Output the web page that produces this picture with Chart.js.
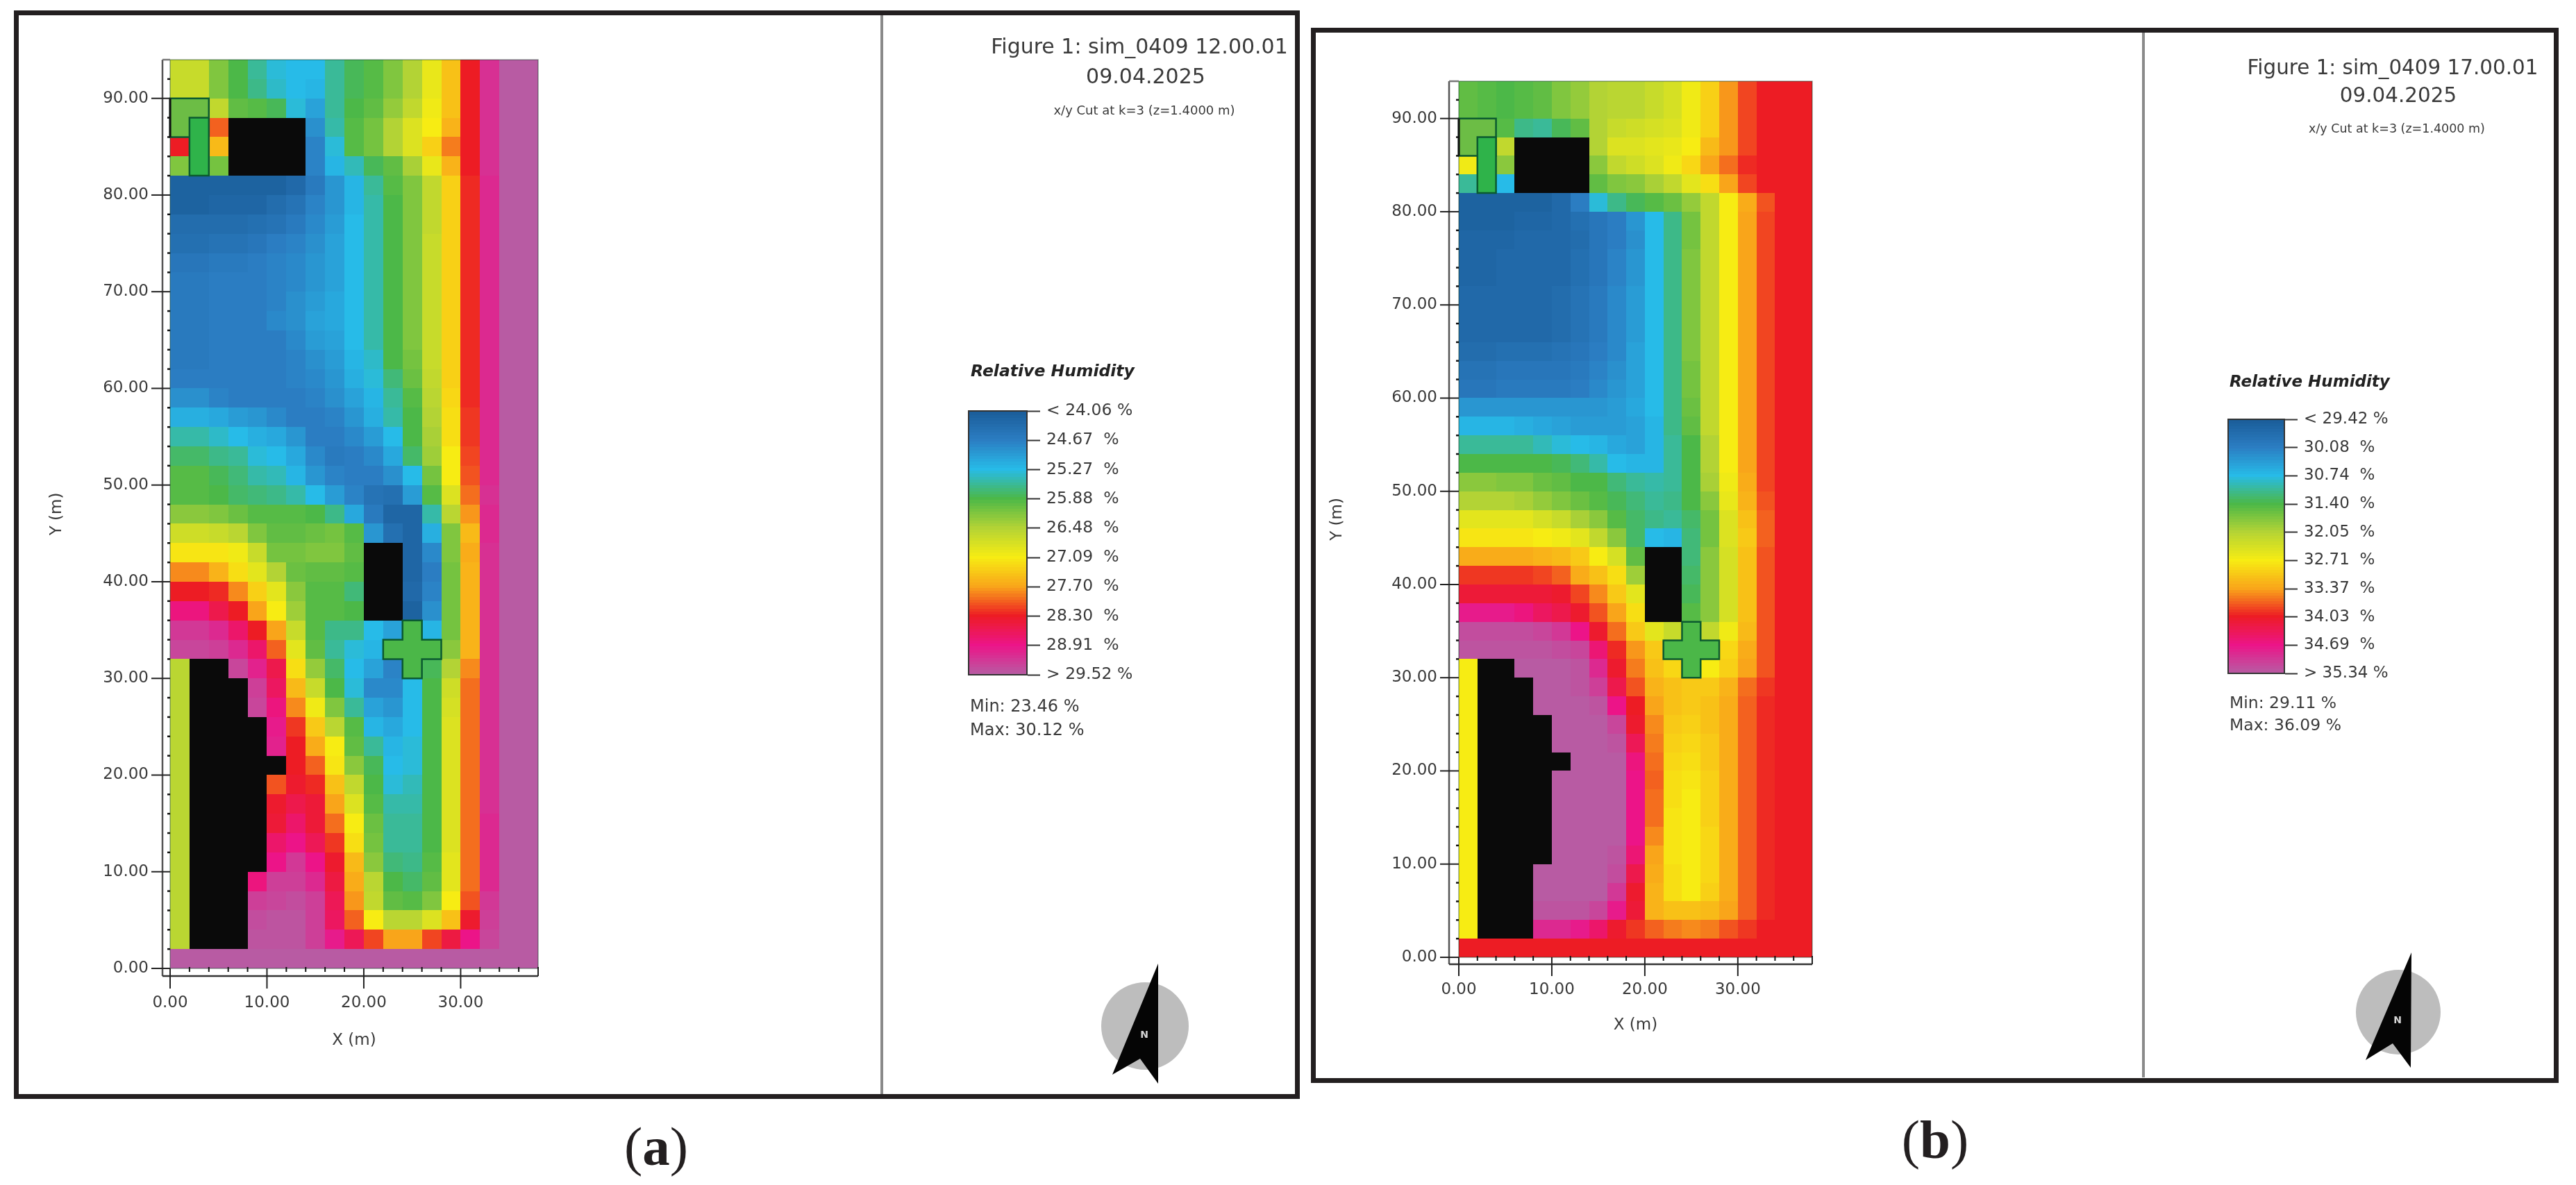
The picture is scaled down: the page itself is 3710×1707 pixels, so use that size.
<!DOCTYPE html>
<html><head><meta charset="utf-8">
<script src="https://cdn.jsdelivr.net/npm/chart.js@4"></script>
<style>
html,body{margin:0;padding:0;background:#fff}
#root{position:relative;width:3710px;height:1707px;overflow:hidden;filter:blur(.6px);font-family:"DejaVu Sans",sans-serif;color:#3a3a3a}
.frame{position:absolute;border:7px solid #231f20;box-sizing:border-box}
.div{position:absolute;background:#8a8a8a}
canvas{position:absolute}
.t{position:absolute;white-space:pre;line-height:1}
.c{transform:translate(-50%,-50%)}
.l{transform:translateY(-50%)}
.cap{font-family:"Liberation Serif",serif;color:#231f20;font-size:79px}
svg{position:absolute;left:0;top:0}
</style></head><body><div id="root"></div>
<script>
const N = null; // building footprint (drawn black)
// Cell values: position on the colour bar, 0 (lowest tick) … 9 (highest tick). Top row first; 19 columns of 2 m, 47 rows of 2 m.
const humidityA = [
[4.3,4.3,3.5,3,2.5,2.1,2,2,2.5,2.9,3.1,3.5,4,4.8,5.6,7,8.4,9,9],
[4.3,4.3,3.5,3,2.6,2.2,2,1.9,2.5,2.9,3.1,3.5,4,4.8,5.6,7,8.4,9,9],
[3.5,3.5,4.2,3.2,3.1,2.9,2.1,1.6,2.5,3,3.2,3.7,4.2,4.9,5.6,7,8.4,9,9],
[3.5,3.3,6.5,N,N,N,N,1.3,2.4,3.1,3.4,4,4.6,5,5.8,7,8.4,9,9],
[7,3.3,5.7,N,N,N,N,1.1,2.1,3.1,3.4,4,4.6,5.4,6.3,7,8.4,9,9],
[3.5,3.3,3.4,N,N,N,N,1.1,1.9,2.3,2.9,3.2,3.9,4.8,5.8,7,8.4,9,9],
[.2,.2,.2,.2,.2,.2,.4,.9,1.4,1.9,2.5,3.1,3.5,4.2,5.4,6.9,8.3,9,9],
[.2,.2,.3,.3,.3,.5,.7,1.1,1.4,1.9,2.4,3,3.5,4.2,5.4,6.9,8.3,9,9],
[.5,.5,.5,.5,.6,.7,.9,1.2,1.5,2,2.4,3,3.5,4.2,5.4,6.9,8.3,9,9],
[.6,.6,.7,.7,.8,1,1.1,1.3,1.6,2,2.4,3,3.5,4.3,5.4,6.9,8.3,9,9],
[.8,.8,.9,.9,1,1.1,1.2,1.4,1.6,2,2.4,3,3.5,4.3,5.4,6.9,8.3,9,9],
[.9,.9,1,1,1,1.1,1.2,1.4,1.6,2,2.4,3,3.5,4.3,5.4,6.9,8.3,9,9],
[.9,.9,1,1,1,1.1,1.3,1.5,1.7,2,2.4,3,3.5,4.3,5.4,6.9,8.3,9,9],
[.9,.9,1,1,1,1.2,1.3,1.6,1.7,2,2.4,3,3.5,4.3,5.4,6.9,8.3,9,9],
[.9,.9,1,1,1,1,1.2,1.5,1.6,2,2.4,3,3.5,4.3,5.4,6.9,8.3,9,9],
[.9,.9,1,1,1,1,1.1,1.3,1.5,1.9,2.2,3,3.4,4.3,5.4,6.9,8.3,9,9],
[1,1,1,1,1,1,1.1,1.2,1.4,1.8,2.1,2.7,3.3,4.2,5.4,6.9,8.3,9,9],
[1.3,1.3,1.1,1,1,1,1,1.1,1.3,1.6,1.9,2.5,3.1,4.1,5.3,6.9,8.3,9,9],
[1.8,1.8,1.7,1.5,1.4,1.2,1,1,1.1,1.4,1.8,2.4,3,4,5.2,6.8,8.3,9,9],
[2.4,2.4,2.2,2,1.8,1.7,1.4,1,1,1.2,1.5,2,3,3.9,5.2,6.8,8.3,9,9],
[2.8,2.8,2.6,2.5,2.1,2,1.7,1.2,.9,1,1.2,1.7,2.8,3.8,5,6.7,8.3,9,9],
[3.1,3.1,2.9,2.7,2.4,2.3,1.9,1.4,1.1,1,1,1.3,2,3.4,5,6.6,8.3,9,9],
[3.1,3.1,3,2.8,2.7,2.6,2.4,2,1.5,1.1,.7,.6,1.5,3.1,4.6,6.4,8.4,9,9],
[3.6,3.6,3.5,3.3,3.1,3.1,3.1,3,2.6,1.7,.9,.3,.3,2.4,4.1,6.1,8.3,9,9],
[4.4,4.4,4.3,4.1,3.5,3.2,3.2,3.3,3.4,3.1,1.4,.6,.3,1.8,3.5,5.7,8.3,9,9],
[5.1,5.1,5.1,4.9,4.3,3.4,3.4,3.5,3.5,3.2,N,N,.3,1.2,3.5,5.9,8.4,9,9],
[6.2,6.2,5.8,5.2,4.7,4,3.3,3.2,3.2,3.1,N,N,.3,1,3.4,5.8,8.4,9,9],
[7,7,6.9,6.2,5.4,4.7,3.6,3.1,3.1,2.7,N,N,.4,1.1,3.4,5.8,8.4,9,9],
[7.9,7.9,7.4,7,6,5,3.8,3.1,3.1,3,N,N,.2,1.3,3.4,5.8,8.4,9,9],
[8.5,8.5,8.3,7.7,7,6,4.3,3.1,2.6,2.6,2,1.6,3.3,1.9,3.4,5.8,8.4,9,9],
[8.7,8.7,8.6,8.3,7.7,6.5,4.7,3.2,2.5,2.1,1.9,3.3,3.3,3.3,3.6,5.8,8.4,9,9],
[4.1,N,N,8.7,8.2,7.4,5.2,3.7,2.8,2,1.6,1.1,3.3,2.9,4,6.2,8.4,9,9],
[4.1,N,N,N,8.6,7.6,5.7,4.3,3,2.1,1.2,1.2,2,3,4.4,6.4,8.4,9,9],
[4.1,N,N,N,8.7,7.9,6.2,4.9,3.5,2.5,1.6,1.4,2,3,4.5,6.4,8.4,9,9],
[4.1,N,N,N,N,8.1,6.8,5.5,4.1,3.1,1.9,1.7,2,3,4.6,6.4,8.4,9,9],
[4.1,N,N,N,N,8.2,7,5.9,5,3.2,2.5,1.9,2.1,3,4.6,6.4,8.4,9,9],
[4.1,N,N,N,N,N,7,6.5,5.1,3.6,2.9,2,2.1,3,4.6,6.4,8.4,9,9],
[4.1,N,N,N,N,6.6,7.1,6.9,5.6,4.2,3,2.1,2.3,3,4.6,6.4,8.4,9,9],
[4.1,N,N,N,N,7.1,7.4,7.2,6,4.6,3.1,2.4,2.4,3,4.6,6.4,8.4,9,9],
[4.1,N,N,N,N,7.2,7.7,7.2,6.4,5,3.3,2.5,2.5,3,4.6,6.4,8.3,9,9],
[4.1,N,N,N,N,7.7,8,7.5,6.8,5.2,3.4,2.5,2.5,3,4.6,6.4,8.3,9,9],
[4.1,N,N,N,N,8,8.5,8,7.1,5.7,3.6,2.7,2.6,3.1,4.7,6.4,8.3,9,9],
[4.1,N,N,N,7.9,8.6,8.6,8.3,7.3,5.9,4.1,3,2.8,3.2,4.7,6.4,8.3,9,9],
[4.1,N,N,N,8.6,8.7,8.8,8.6,7.5,6.1,4.2,3.2,3.1,3.5,5,6.6,8.5,9,9],
[4.1,N,N,N,8.8,8.9,8.9,8.6,7.6,6.5,5,4.1,4.1,4.6,5.6,7.1,8.6,9,9],
[4.1,N,N,N,8.9,8.9,8.9,8.6,8.1,7.5,6.7,6,6,6.7,7.3,8,8.7,9,9],
[9,9,9,9,9,9,9,9,9,9,9,9,9,9,9,9,9,9,9]
];
const humidityB = [
[3.2,3.1,3,3.1,3.2,3.5,3.7,4,4.1,4.1,4.3,4.5,4.9,5.4,6.1,6.7,7,7,7],
[3.2,3.1,3,3.1,3.2,3.5,3.7,4,4.1,4.1,4.3,4.5,4.9,5.4,6.1,6.7,7,7,7],
[3.5,3.5,3.1,2.6,2.5,2.9,3.2,4,4.3,4.4,4.5,4.6,4.9,5.4,6.1,6.7,7,7,7],
[3.5,3.3,4.2,N,N,N,N,4,4.6,4.6,4.7,4.8,5,5.7,6.1,6.7,7,7,7],
[4.9,3.3,3.6,N,N,N,N,3.6,4.2,4.4,4.6,4.9,5.3,6,6.4,6.9,7,7,7],
[2.5,3.3,2,N,N,N,N,3.2,3.5,3.6,3.9,4.2,4.7,5.2,6,6.7,7,7,7],
[.2,.2,.2,.2,.2,.4,1,2.1,2.6,2.9,3.1,3.3,3.7,4.2,5,5.9,6.6,7,7],
[.2,.2,.2,.3,.3,.4,.6,.8,1,1.4,2,2.6,3.4,4.2,5,6,6.7,7,7],
[.3,.3,.3,.4,.4,.4,.5,.8,1,1.3,2,2.6,3.4,4.2,5,6,6.7,7,7],
[.3,.3,.4,.4,.4,.4,.6,.8,1.1,1.4,2,2.6,3.5,4.2,5,6,6.7,7,7],
[.3,.3,.4,.4,.4,.4,.6,.8,1.1,1.4,2,2.6,3.5,4.2,5,6,6.7,7,7],
[.4,.4,.4,.4,.4,.5,.7,.9,1.2,1.5,2,2.6,3.5,4.2,5,6,6.7,7,7],
[.4,.4,.4,.4,.4,.5,.7,.9,1.2,1.5,2,2.6,3.5,4.2,5,6,6.7,7,7],
[.4,.4,.4,.4,.4,.5,.7,.9,1.2,1.5,2,2.6,3.5,4.2,5,6,6.7,7,7],
[.5,.5,.6,.6,.6,.7,.8,1,1.2,1.6,2,2.6,3.5,4.2,5,6,6.7,7,7],
[.7,.7,.8,.8,.8,.8,.9,1.1,1.3,1.6,2,2.6,3.4,4.2,5,6,6.7,7,7],
[.8,.8,.9,.9,.9,.9,1,1.2,1.4,1.6,2,2.6,3.4,4.2,5,6,6.7,7,7],
[1.4,1.4,1.4,1.4,1.4,1.4,1.4,1.4,1.5,1.7,2,2.6,3.3,4.2,5,6,6.7,7,7],
[1.9,1.9,1.9,1.8,1.7,1.6,1.5,1.5,1.5,1.6,1.9,2.6,3.2,4.2,5,6,6.7,7,7],
[2.5,2.5,2.5,2.5,2.3,2.1,2,1.9,1.7,1.6,1.9,2.5,3,4,5,6,6.7,7,7],
[3,3,3,3,3,2.9,2.7,2.4,2,1.9,1.9,2.5,3,4,5,6,6.7,7,7],
[3.6,3.6,3.5,3.5,3.3,3.2,3,3,2.7,2.5,2.4,2.5,3,3.9,4.9,5.9,6.7,7,7],
[4,4,4,3.9,3.7,3.5,3.3,3.1,2.9,2.7,2.5,2.6,3,3.6,4.8,5.8,6.6,7,7],
[4.7,4.7,4.7,4.7,4.5,4.3,3.9,3.6,3.1,2.8,2.6,2.5,2.8,3.4,4.6,5.6,6.5,7,7],
[5.1,5.1,5.1,5.1,5,4.9,4.7,4.2,3.6,2.8,2,1.9,2.7,3.4,4.6,5.5,6.5,7,7],
[5.9,5.9,5.9,5.9,5.8,5.7,5.5,5,4.5,3.2,N,N,2.7,3.6,4.5,5.6,6.6,7,7],
[6.8,6.8,6.8,6.8,6.7,6.5,5.9,5.6,5.2,3.8,N,N,2.8,3.6,4.5,5.6,6.6,7,7],
[7.2,7.2,7.2,7.2,7.2,7.1,6.7,6.2,5.5,4.7,N,N,2.9,3.6,4.5,5.6,6.6,7,7],
[8.1,8.1,8.1,7.9,7.6,7.4,7.1,6.6,6,5.2,N,N,3.1,3.6,4.5,5.6,6.6,7,7],
[8.8,8.8,8.8,8.8,8.7,8.5,8,7.1,6.4,5.5,4.7,4.3,3.3,4.2,4.9,5.7,6.6,7,7],
[8.9,8.9,8.9,8.9,8.9,8.8,8.7,7.8,6.9,6.1,5.5,3.3,3.3,3.3,5.3,5.9,6.6,7,7],
[5,N,N,9,9,9,8.9,8.3,7.1,6.3,5.6,5.3,3.3,5,5.4,6,6.6,7,7],
[5,N,N,N,9,9,8.9,8.6,7.4,6.6,5.8,5.6,5.5,5.5,5.8,6.4,6.8,7,7],
[5,N,N,N,9,9,9,8.9,8,7,6,5.6,5.5,5.6,5.9,6.5,6.9,7,7],
[5,N,N,N,N,9,9,9,8.7,7.1,6.2,5.5,5.4,5.6,5.9,6.5,6.9,7,7],
[5,N,N,N,N,9,9,9,8.9,7.5,6.3,5.4,5.3,5.5,5.9,6.5,6.9,7,7],
[5,N,N,N,N,N,9,9,9,7.9,6.4,5.3,5.2,5.5,5.9,6.5,6.9,7,7],
[5,N,N,N,N,9,9,9,9,8,6.5,5.2,5.1,5.4,5.9,6.5,6.9,7,7],
[5,N,N,N,N,9,9,9,9,8,6.4,5.2,5,5.4,5.9,6.5,6.9,7,7],
[5,N,N,N,N,9,9,9,9,8,6.4,5.1,5,5.4,5.9,6.5,6.9,7,7],
[5,N,N,N,N,9,9,9,9,8,6.2,5.1,5,5.3,5.9,6.5,6.9,7,7],
[5,N,N,N,N,9,9,9,8.9,7.8,6,5.1,5,5.3,5.9,6.5,6.9,7,7],
[5,N,N,N,9,9,9,9,8.8,7.4,5.9,5.2,5,5.3,5.9,6.5,6.9,7,7],
[5,N,N,N,9,9,9,9,8.5,7.1,5.8,5.2,5,5.4,5.9,6.5,6.9,7,7],
[5,N,N,N,8.9,8.9,8.9,8.7,8.1,7.2,5.8,5.6,5.6,5.7,6,6.5,6.9,7,7],
[5,N,N,N,8.3,8.3,8.1,7.7,7.1,6.8,6.5,6.3,6.2,6.3,6.6,6.8,7,7,7],
[7,7,7,7,7,7,7,7,7,7,7,7,7,7,7,7,7,7,7]
];
const colourStops = ['#1a5c98','#2b7dc2','#27bbe8','#4cb848','#b3d335','#f7ec13','#f9a51a','#ed1c24','#ec1488','#b85ba3'];
const legendLabelsA = ['< 24.06 %','24.67  %','25.27  %','25.88  %','26.48  %','27.09  %','27.70  %','28.30  %','28.91  %','> 29.52 %'];
const legendLabelsB = ['< 29.42 %','30.08  %','30.74  %','31.40  %','32.05  %','32.71  %','33.37  %','34.03  %','34.69  %','> 35.34 %'];
const xMinorTicks = [2,4,6,8,12,14,16,18,22,24,26,28,32,34,36,38];
const yMinorTicks = [2,4,6,8,12,14,16,18,22,24,26,28,32,34,36,38,42,44,46,48,52,54,56,58,62,64,66,68,72,74,76,78,82,84,86,88,92];
const gardenBox = [[0,90],[4,90],[4,86],[0,86]];
const treeBox = [[2,88],[4,88],[4,82],[2,82]];
const crossTree = [[24,36],[26,36],[26,34],[28,34],[28,32],[26,32],[26,30],[24,30],[24,32],[22,32],[22,34],[24,34]];

function hex(c){return [1,3,5].map(i=>parseInt(c.slice(i,i+2),16));}
function levelColour(v){
  if(v===null) return '#0a0a0a';
  const i=Math.min(8,Math.floor(v)),f=v-i,a=hex(colourStops[i]),b=hex(colourStops[i+1]);
  return 'rgb('+a.map((p,k)=>Math.round(p+(b[k]-p)*f)).join(',')+')';
}
function cellsOf(grid){
  const out=[];
  grid.forEach((row,r)=>row.forEach((v,c)=>out.push({x:2*c+1,y:94-2*r-1,v})));
  return out;
}
const heatCells={id:'heatCells',beforeDatasetsDraw(chart,_,opts){
  const {ctx,chartArea:a,scales:{x,y}}=chart;
  ctx.save();ctx.beginPath();ctx.rect(a.left,a.top,a.width,a.height);ctx.clip();
  chart.data.datasets.forEach(ds=>{
    if(!ds.cellHalf) return;
    ds.data.forEach(p=>{
      const s=y.options.reverse?-1:1;
      const l=Math.round(x.getPixelForValue(p.x-ds.cellHalf[0])),r=Math.round(x.getPixelForValue(p.x+ds.cellHalf[0]));
      const t=Math.round(y.getPixelForValue(p.y+ds.cellHalf[1]*s)),b=Math.round(y.getPixelForValue(p.y-ds.cellHalf[1]*s));
      ctx.fillStyle=levelColour(p.v);ctx.fillRect(l,t,r-l,b-t);
    });
  });
  ctx.restore();
  if(opts.outline){ctx.strokeStyle=opts.outline;ctx.lineWidth=opts.outlineWidth||1;ctx.strokeRect(a.left,a.top,a.width,a.height);}
}};
const simAxes={id:'simAxes',afterDatasetsDraw(chart,_,o){
  const {ctx,chartArea:a,scales:{x,y}}=chart;
  const line=(x1,y1,x2,y2,w,c)=>{ctx.strokeStyle=c||'#2a2a2a';ctx.lineWidth=w;ctx.beginPath();ctx.moveTo(x1,y1);ctx.lineTo(x2,y2);ctx.stroke();};
  const poly=(pts,fill,w)=>{ctx.beginPath();pts.forEach((p,i)=>{const px=x.getPixelForValue(p[0]),py=y.getPixelForValue(p[1]);i?ctx.lineTo(px,py):ctx.moveTo(px,py);});ctx.closePath();ctx.fillStyle=fill;ctx.fill();ctx.strokeStyle='#0b5a30';ctx.lineWidth=w;ctx.stroke();};
  poly(gardenBox,'#6cbd45',2.5);poly(treeBox,'#2fb34a',2.5);poly(crossTree,'#4bb748',2.5);
  const L=a.left-o.gapL,B=a.bottom+o.gapB;
  line(L,a.top,L,B,2.5,'#555');line(L,B,a.right,B,2.5,'#333');line(L,a.top,a.left,a.top,2.5,'#777');
  line(a.left,y.getPixelForValue(90),a.left,y.getPixelForValue(86),3,'#111');
  y.ticks.forEach(t=>{const p=y.getPixelForValue(t.value);line(L-o.tickOut,p,a.left,p,2,'#222');});
  yMinorTicks.forEach(v=>{const p=y.getPixelForValue(v);line(a.left-4,p,a.left,p,2.5,'#111');});
  x.ticks.forEach(t=>{const p=x.getPixelForValue(t.value);line(p,a.bottom,p,B+o.tickOutB,2,'#222');});
  xMinorTicks.forEach(v=>{const p=x.getPixelForValue(v);line(p,a.bottom-2,p,a.bottom+5,2,'#111');});
  const e=x.getPixelForValue(38);line(e,a.bottom,e,B,2,'#222');
}};
const root=document.getElementById('root');
function el(cls,css,txt){const d=document.createElement('div');d.className=cls;Object.assign(d.style,css);if(txt!==undefined)d.textContent=txt;root.appendChild(d);return d;}
function txt(s,x,y,size,cls,extra){return el('t '+cls,Object.assign({left:x+'px',top:y+'px',fontSize:size+'px'},extra||{}),s);}
function mkCanvas(l,t,w,h){const c=document.createElement('canvas');c.width=w;c.height=h;c.style.left=l+'px';c.style.top=t+'px';c.style.width=w+'px';c.style.height=h+'px';root.appendChild(c);return c;}

function simChart(grid,g){
  const left=g.x0-g.axisW, top=g.y0-10, w=g.x1+14-left, h=g.y1+g.axisH-top;
  return new Chart(mkCanvas(left,top,w,h),{
    type:'scatter',
    data:{datasets:[{label:'Relative Humidity',data:cellsOf(grid),cellHalf:[1,1],pointRadius:0,pointHoverRadius:0}]},
    plugins:[heatCells,simAxes],
    options:{responsive:false,animation:false,events:[],layout:{padding:{top:10,right:14,left:0,bottom:0}},
      plugins:{legend:{display:false},tooltip:{enabled:false},title:{display:false},
        heatCells:{outline:'rgba(20,60,40,.45)',outlineWidth:1.5},
        simAxes:{gapL:g.gapL,gapB:g.gapB,tickOut:g.tickOut,tickOutB:g.tickOutB}},
      scales:{
        x:{type:'linear',min:0,max:38,grid:{display:false,drawTicks:false},border:{display:false},
          afterFit(s){s.height=g.axisH;s.paddingLeft=0;s.paddingRight=0;},
          title:{display:true,text:'X (m)',color:'#3a3a3a',font:{family:'DejaVu Sans',size:23},padding:{top:0,bottom:g.titleB}},
          ticks:{stepSize:10,includeBounds:false,autoSkip:false,maxRotation:0,padding:g.padX,color:'#3a3a3a',font:{family:'DejaVu Sans',size:23},callback:v=>v.toFixed(2)}},
        y:{type:'linear',min:0,max:94,grid:{display:false,drawTicks:false},border:{display:false},
          afterFit(s){s.width=g.axisW;s.paddingTop=0;s.paddingBottom=0;},
          title:{display:true,text:'Y (m)',color:'#3a3a3a',font:{family:'DejaVu Sans',size:23},padding:{top:g.titleL,bottom:0}},
          ticks:{stepSize:10,includeBounds:false,autoSkip:false,padding:g.padY,color:'#3a3a3a',font:{family:'DejaVu Sans',size:23},callback:v=>v.toFixed(2)}}
      }}
  });
}
function colourBar(labels,b){
  const rightW=b.canvasR-b.x1, left=b.x0-10, top=b.y0-17, w=b.canvasR-left, h=b.y1-b.y0+35;
  const levels=[];for(let i=0;i<=90;i++)levels.push({x:.5,y:i/10,v:i/10});
  return new Chart(mkCanvas(left,top,w,h),{
    type:'scatter',
    data:{datasets:[{label:'colour bar',data:levels,cellHalf:[.5,.06],pointRadius:0,pointHoverRadius:0}]},
    plugins:[heatCells],
    options:{responsive:false,animation:false,events:[],layout:{padding:{top:17,bottom:18,left:10,right:0}},
      plugins:{legend:{display:false},tooltip:{enabled:false},heatCells:{outline:'#333',outlineWidth:2}},
      scales:{
        x:{type:'linear',display:false,min:0,max:1},
        y:{type:'linear',position:'right',reverse:true,min:0,max:9,
          afterFit(s){s.width=rightW;s.paddingTop=0;s.paddingBottom=0;},
          grid:{drawOnChartArea:false,drawTicks:true,tickLength:19,tickColor:'#333',tickWidth:2},border:{color:'#333'},
          ticks:{stepSize:1,autoSkip:false,padding:9,color:'#3a3a3a',font:{family:'DejaVu Sans',size:b.font},callback:v=>labels[v]}}
      }}
  });
}
function compass(c){
  return `<circle cx="${c.cx}" cy="${c.cy}" r="${c.r}" fill="#bdbdbd"/>
  <polygon points="${c.tip} ${c.lb} ${c.notch} ${c.rb}" fill="#050505"/>
  <text x="${c.nx}" y="${c.ny}" font-family="DejaVu Sans" font-weight="bold" font-size="14" fill="#d5d5d5" text-anchor="middle">N</text>`;
}
// frames
el('frame',{left:'20px',top:'15px',width:'1852px',height:'1568px'});
el('frame',{left:'1888px',top:'40px',width:'1797px',height:'1520px'});
el('div',{left:'1268px',top:'22px',width:'4px',height:'1554px'});
el('div',{left:'3085px',top:'47px',width:'4px',height:'1505px'});
const svg=document.createElementNS('http://www.w3.org/2000/svg','svg');
svg.setAttribute('width','3710');svg.setAttribute('height','1707');
svg.innerHTML=compass({cx:1649,cy:1478,r:63,tip:'1668,1388',lb:'1602,1548',notch:'1642,1525',rb:'1668,1561',nx:1648,ny:1495})
 +compass({cx:3454,cy:1458,r:61,tip:'3473,1372',lb:'3407,1527',notch:'3446,1503',rb:'3472,1538',nx:3453,ny:1474});
root.appendChild(svg);

simChart(humidityA,{x0:245,x1:775,y0:86,y1:1395,axisW:205,axisH:130,gapL:11,gapB:11,tickOut:16,tickOutB:18,padX:36,padY:31,titleB:12,titleL:28});
simChart(humidityB,{x0:2101,x1:2610,y0:117,y1:1379,axisW:201,axisH:130,gapL:14,gapB:10,tickOut:13,tickOutB:17,padX:33,padY:31,titleB:18,titleL:12});
colourBar(legendLabelsA,{x0:1395,x1:1479,y0:592,y1:972,canvasR:1700,font:23.5});
colourBar(legendLabelsB,{x0:3209,x1:3290,y0:604,y1:970,canvasR:3500,font:23});

txt('Figure 1: sim_0409 12.00.01',1641,67,30,'c');
txt('09.04.2025',1650,110,30,'c');
txt('x/y Cut at k=3 (z=1.4000 m)',1648,159,18,'c');
txt('Relative Humidity',1398,535,23.5,'l',{fontWeight:'bold',fontStyle:'italic',color:'#222'});
txt('Min: 23.46 %',1397,1017,24,'l');
txt('Max: 30.12 %',1397,1051,24,'l');
txt('Figure 1: sim_0409 17.00.01',3446,98,29.4,'c');
txt('09.04.2025',3454,138,29.4,'c');
txt('x/y Cut at k=3 (z=1.4000 m)',3452,186,17.5,'c');
txt('Relative Humidity',3211,549,23,'l',{fontWeight:'bold',fontStyle:'italic',color:'#222'});
txt('Min: 29.11 %',3211,1013,23.5,'l');
txt('Max: 36.09 %',3211,1045,23.5,'l');
const capA=el('t c cap',{left:'945px',top:'1651px'});capA.innerHTML='(<b>a</b>)';
const capB=el('t c cap',{left:'2787px',top:'1641px'});capB.innerHTML='(<b>b</b>)';
</script></body></html>
